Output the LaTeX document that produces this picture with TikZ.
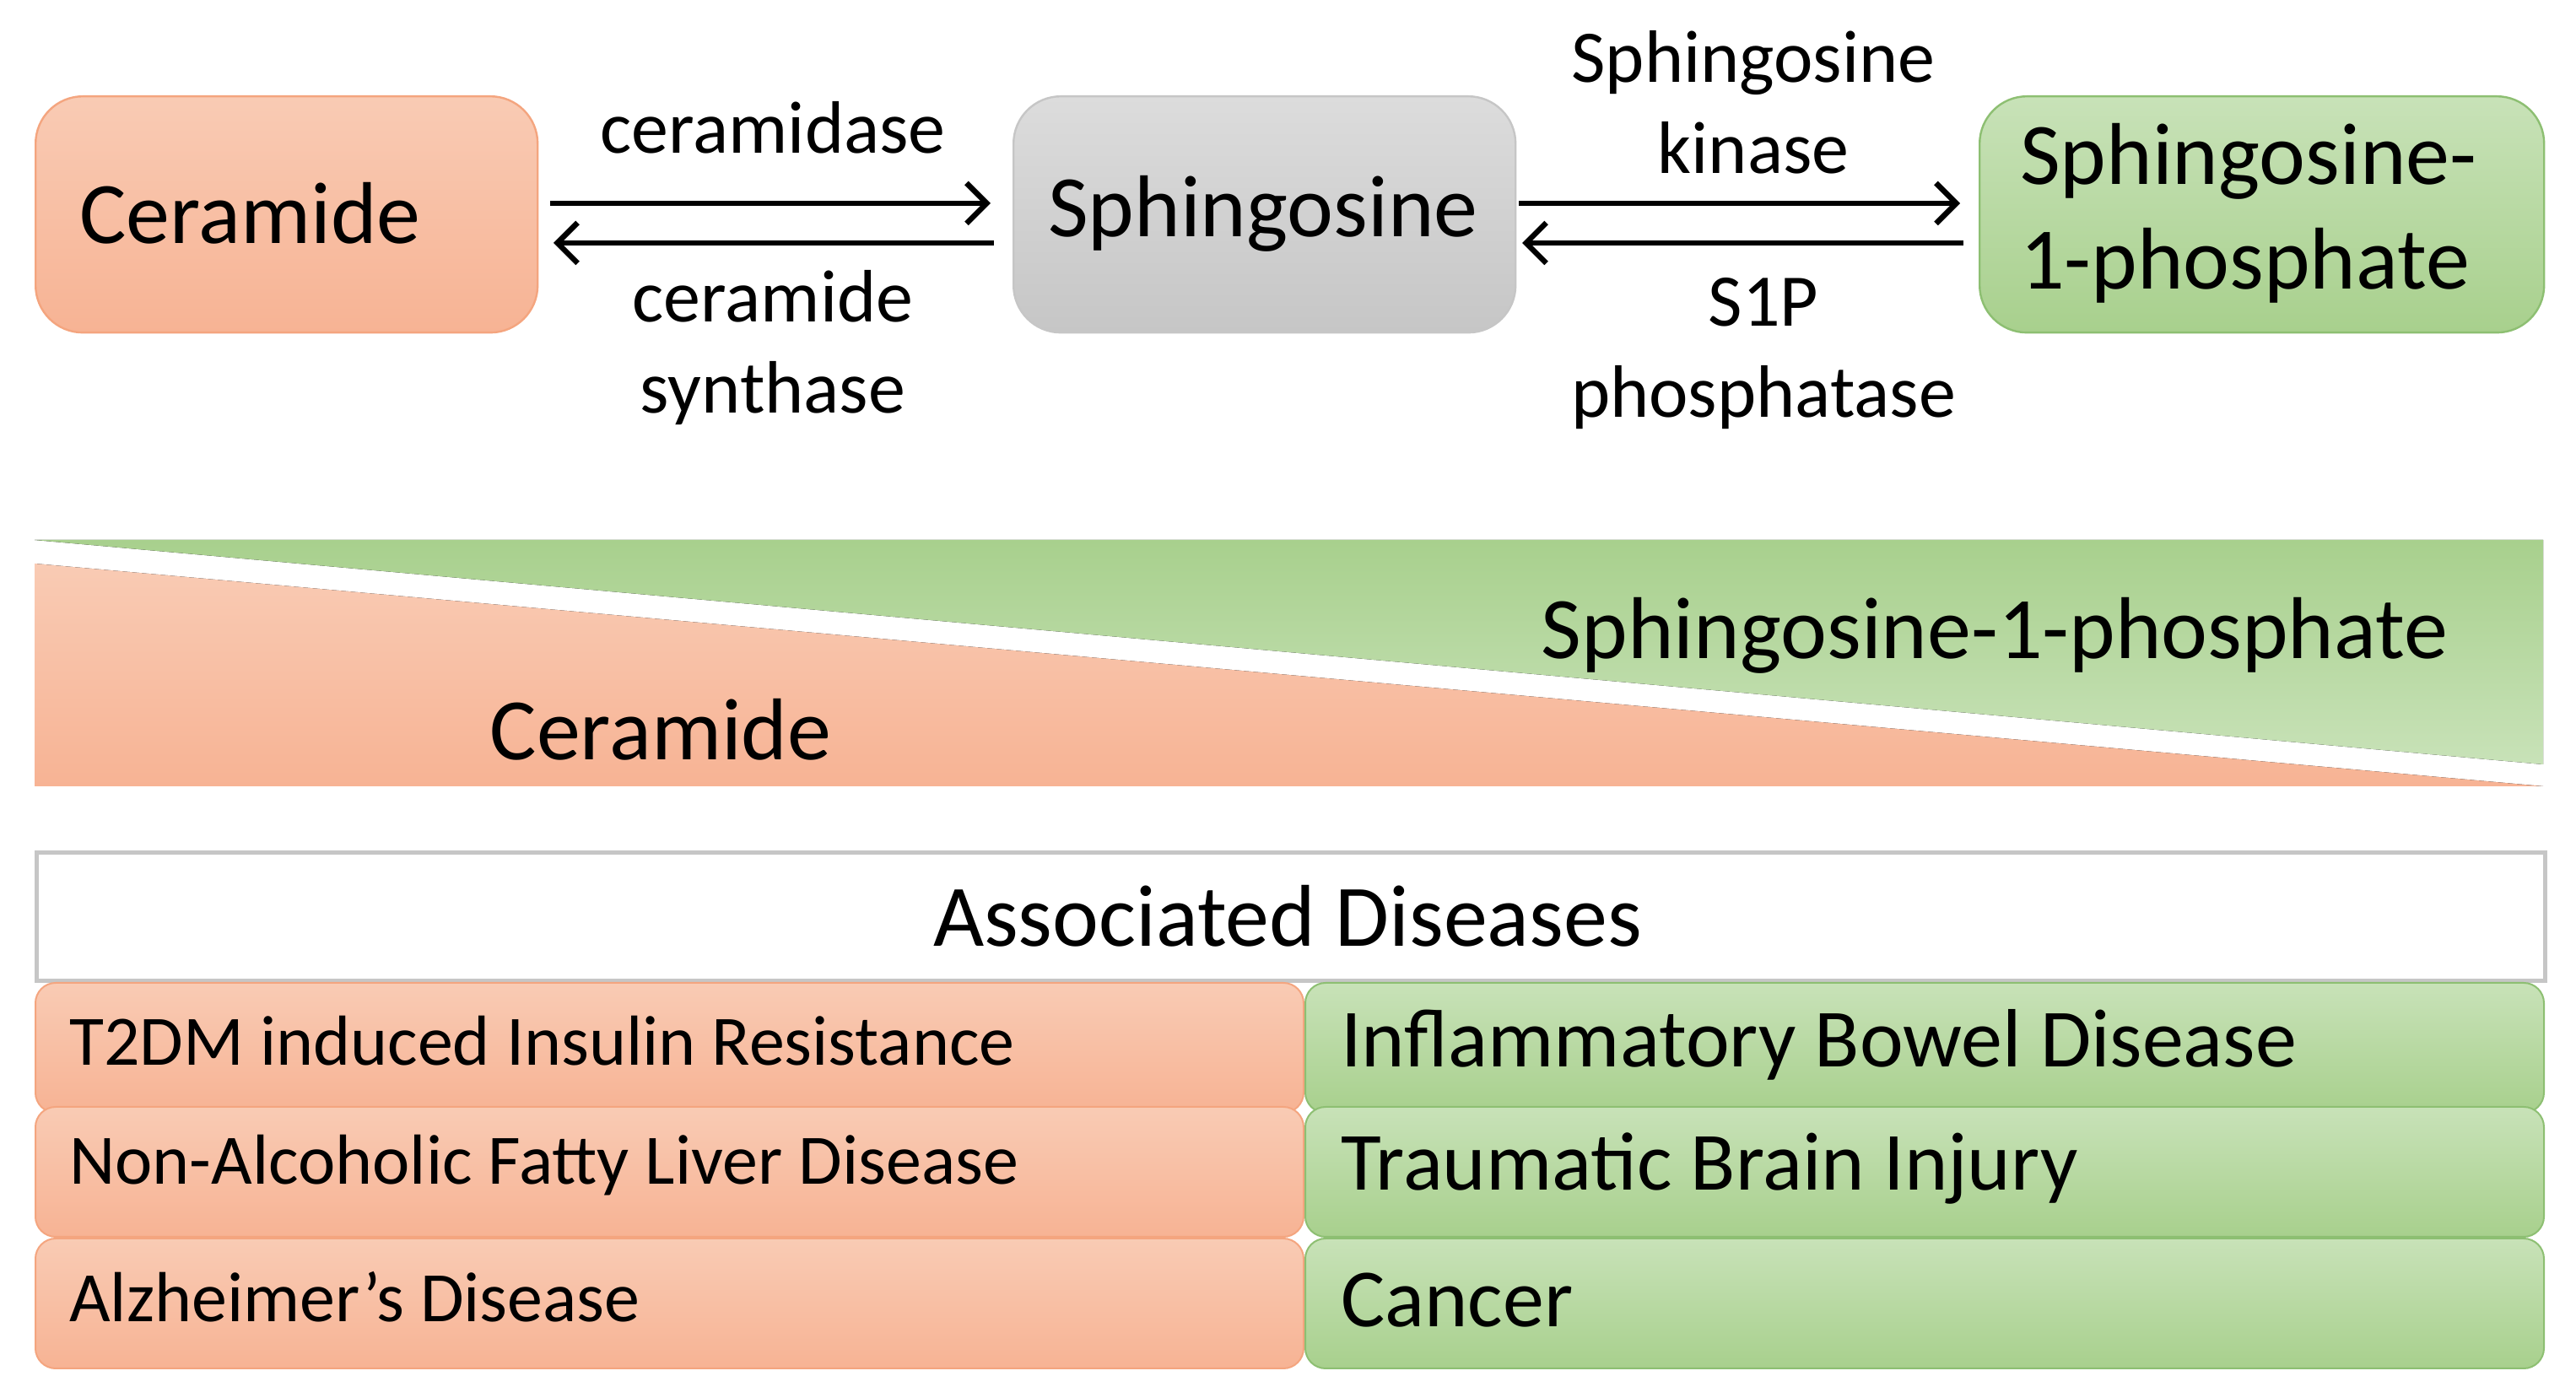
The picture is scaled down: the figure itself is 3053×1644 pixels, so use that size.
\documentclass[tikz,border=0pt]{standalone}
\usepackage{fontspec}
\setmainfont{Carlito}
\usetikzlibrary{arrows.meta}
\definecolor{orT}{HTML}{F9CBB4}\definecolor{orB}{HTML}{F7B394}\definecolor{orD}{HTML}{F4A57F}
\definecolor{grT}{HTML}{C8E2B8}\definecolor{grB}{HTML}{A8D08D}\definecolor{grD}{HTML}{8DBF72}
\definecolor{gyT}{HTML}{DCDCDC}\definecolor{gyB}{HTML}{C6C6C6}
\tikzset{
 box/.style={rounded corners=14pt,minimum height=70pt,anchor=north west,inner sep=0pt},
 obox/.style={box,top color=orT,bottom color=orB,draw=orD,line width=0.6pt},
 gbox/.style={box,top color=grT,bottom color=grB,draw=grD,line width=0.6pt},
 ybox/.style={box,top color=gyT,bottom color=gyB,draw=gyB,line width=0.6pt},
 big/.style={font=\fontsize{26}{31}\selectfont},
 lab/.style={font=\fontsize{22}{27}\selectfont,align=center},
 arr/.style={line width=1.6pt,-{Straight Barb[length=6pt,width=12pt,line width=1.6pt]}},
 row/.style={rounded corners=6pt,anchor=north west,inner sep=0pt,line width=0.5pt},
}
\begin{document}
\begin{tikzpicture}[x=0.25pt,y=-0.25pt]
\useasboundingbox (0,0) rectangle (3053,1644);
% top boxes
\node[obox,minimum width=148.75pt] (cer) at (41,113) {};
\node[big,anchor=west] at (80,253) {Ceramide};
\node[ybox,minimum width=148.75pt] (sph) at (1200,113) {};
\node[big] at (1497,253) {Sphingosine};
\node[gbox,minimum width=167.25pt] (s1p) at (2345,113) {};
\node[big,anchor=west,align=left] at (2380,253) {Sphingosine-\\1-phosphate};
% arrows
\coordinate (a1) at (652,241);\coordinate (a2) at (1174,241);
\coordinate (b1) at (1178,288);\coordinate (b2) at (656,288);
\draw[arr] (a1) -- (a2);\draw[arr] (b1) -- (b2);
\coordinate (c1) at (1800,241);\coordinate (c2) at (2323,241);
\coordinate (d1) at (2327,288);\coordinate (d2) at (1804,288);
\draw[arr] (c1) -- (c2);\draw[arr] (d1) -- (d2);
\node[lab] (l1) at (916,151) {ceramidase};
\node[lab] (l2) at (916,412) {ceramide\\synthase};
\node[lab] (l3) at (2078,121) {Sphingosine\\kinase};
\node[lab] (l4) at (2090,419) {S1P\\phosphatase};
% wedges
\fill[top color=grB,bottom color=grT] (41,640) -- (3014,640) -- (3014,906) -- cycle;
\fill[top color=orT,bottom color=orB] (41,668) -- (3014,932) -- (41,932) -- cycle;
\node[big] (ws) at (2364,753) {Sphingosine-1-phosphate};
\node[big] (wc) at (783,865) {Ceramide};
% table
\node[row,rounded corners=0pt,draw=gyB,line width=1.2pt,fill=white,minimum width=743.25pt,minimum height=38pt] (hd) at (41,1008) {};
\node[big] at (1526,1086) {Associated Diseases};
\foreach \y/\t/\u [count=\i] in {1164/T2DM induced Insulin Resistance/Inflammatory Bowel Disease,1311/Non-Alcoholic Fatty Liver Disease/Traumatic Brain Injury,1467/Alzheimer’s Disease/Cancer}{
 \node[row,top color=orT,bottom color=orB,draw=orD,minimum width=375.75pt,minimum height=38.5pt] (L\i) at (41,\y) {};
 \node[font=\fontsize{21}{25}\selectfont,anchor=west] at (68,\y+70) {\t};
 \node[row,top color=grT,bottom color=grB,draw=grD,minimum width=367pt,minimum height=38.5pt] (R\i) at (1546,\y) {};
 \node[font=\fontsize{24.5}{29}\selectfont,anchor=west] at (1575,\y+74) {\u};
}
\end{tikzpicture}
\end{document}
